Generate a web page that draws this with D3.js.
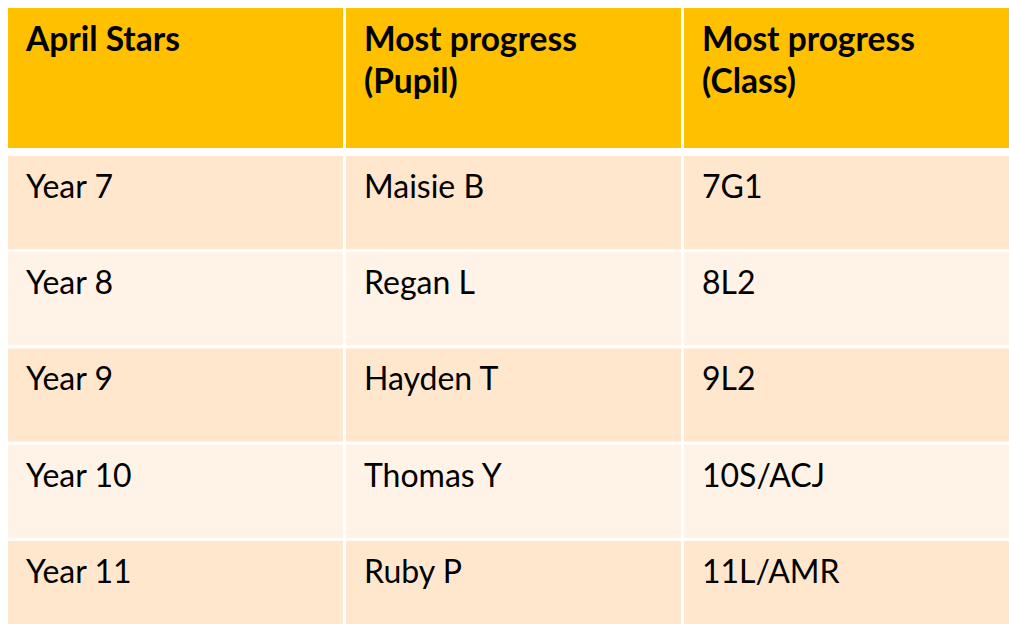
<!DOCTYPE html>
<html>
<head>
<meta charset="utf-8">
<script src="https://cdn.jsdelivr.net/npm/d3@7"></script>
<style>
  body { margin: 0; background: #fff; }
  svg { display: block; }
</style>
</head>
<body>
<div id="chart"></div>
<script>
// table content
const headers = [["April Stars"], ["Most progress", "(Pupil)"], ["Most progress", "(Class)"]];
const years = ["Year 7", "Year 8", "Year 9", "Year 10", "Year 11"];
const pupils = ["Maisie B", "Regan L", "Hayden T", "Thomas Y", "Ruby P"];
const classes = ["7G1", "8L2", "9L2", "10S/ACJ", "11L/AMR"];

const width = 1009;
const height = 624;

const svg = d3.select("#chart")
  .append("svg")
  .attr("width", width)
  .attr("height", height);

const font = "Lato, 'Open Sans', sans-serif";

// columns run past the right edge, like the slide does
const x = d3.scaleBand()
  .domain([0, 1, 2])
  .range([8, 8 + 337 * 3])
  .paddingInner(3 / 337)
  .paddingOuter(0);

const y = d3.scaleBand()
  .domain(d3.range(years.length))
  .range([156, 156 + 95.6 * years.length])
  .paddingInner(3 / 95.6)
  .paddingOuter(0);

// header row
const head = svg.append("g")
  .selectAll("g")
  .data(headers)
  .join("g")
  .attr("transform", (d, i) => `translate(${x(i)},8)`);

head.append("rect")
  .attr("width", x.bandwidth())
  .attr("height", 140)
  .attr("fill", "#ffc000");

head.append("text")
  .attr("font-family", font)
  .attr("font-weight", "bold")
  .attr("font-size", 33.5)
  .attr("fill", "#000")
  .selectAll("tspan")
  .data(d => d)
  .join("tspan")
  .attr("x", 18)
  .attr("y", (d, i) => 43 + i * 42)
  .text(d => d);

// body rows
const rows = years.map((yr, i) => [yr, pupils[i], classes[i]]);

const row = svg.append("g")
  .selectAll("g")
  .data(rows)
  .join("g")
  .attr("transform", (d, i) => `translate(0,${y(i)})`);

row.selectAll("rect")
  .data((d, i) => d.map(v => ({ v, band: i % 2 })))
  .join("rect")
  .attr("x", (d, j) => x(j))
  .attr("width", x.bandwidth())
  .attr("height", y.bandwidth())
  .attr("fill", d => d.band === 0 ? "#ffe7cd" : "#fff2e6");

row.selectAll("text")
  .data(d => d)
  .join("text")
  .attr("x", (d, j) => x(j) + 18)
  .attr("y", 42)
  .attr("font-family", font)
  .attr("font-size", 32)
  .attr("fill", "#000")
  .text(d => d);
</script>
</body>
</html>
